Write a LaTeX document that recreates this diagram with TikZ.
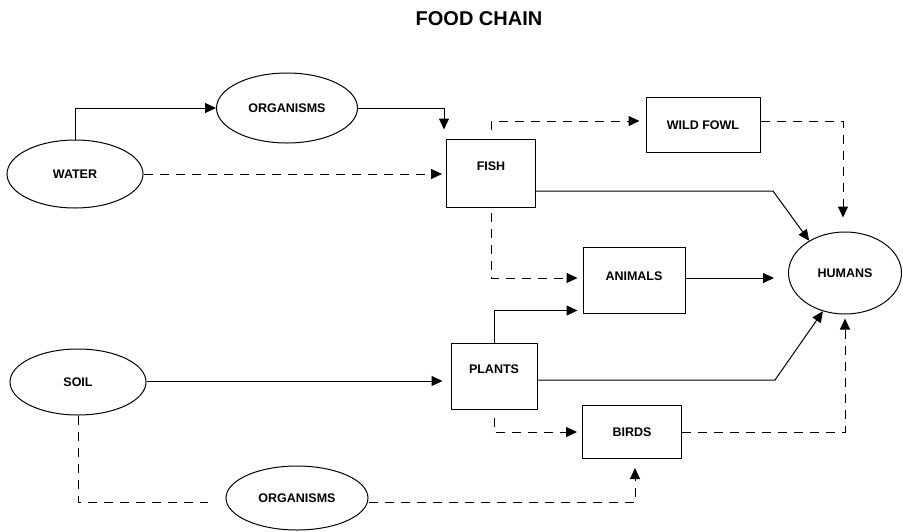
\documentclass[tikz,border=0pt]{standalone}
\usepackage{fontspec}
\setmainfont{Liberation Sans}
\usetikzlibrary{shapes.geometric,arrows.meta}

\begin{document}
\begin{tikzpicture}[x=1pt,y=-1pt,
    font=\fontsize{12.5}{14}\selectfont\bfseries,
    fc_oval/.style={shape=ellipse,draw,line width=1pt,inner sep=0pt},
    fc_box/.style={shape=rectangle,draw,line width=1pt,inner sep=0pt},
    fc_up/.style={text depth=14pt},
    fc_link/.style={line width=1pt,-{Triangle[length=11pt,width=10pt]}},
    fc_dlink/.style={fc_link,dash pattern=on 9pt off 7pt}]
    \useasboundingbox (0,0) rectangle (903,531);

    \node (title) at (479,19) {\fontsize{20}{24}\selectfont FOOD CHAIN};

    % sources
    \node[fc_oval,minimum width=136pt,minimum height=68pt] (water) at (75,174) {WATER};
    \node[fc_oval,minimum width=141pt,minimum height=70pt] (org_w) at (287,108) {ORGANISMS};
    \node[fc_oval,minimum width=136pt,minimum height=66pt] (soil) at (78,382) {SOIL};
    \node[fc_oval,minimum width=142pt,minimum height=64pt] (org_s) at (297,498) {ORGANISMS};

    % food
    \node[fc_box,fc_up,minimum width=89pt,minimum height=68pt] (fish) at (491,173) {FISH};
    \node[fc_box,fc_up,minimum width=86pt,minimum height=66pt] (plants) at (494,376) {PLANTS};
    \node[fc_box,minimum width=114pt,minimum height=55pt] (fowl) at (703,125) {WILD FOWL};
    \node[fc_box,text depth=7pt,minimum width=102pt,minimum height=66pt] (animals) at (634,280) {ANIMALS};
    \node[fc_box,minimum width=99pt,minimum height=53pt] (birds) at (632,432) {BIRDS};

    \node[fc_oval,minimum width=113pt,minimum height=82pt] (humans) at (845,273) {HUMANS};

    \coordinate (fish_bend) at (773,191);
    \coordinate (plants_bend) at (775,380);

    % water side
    \draw[fc_link] (water.north) |- (org_w.west);
    \draw[fc_link,shorten >=9pt] (org_w.east) -| ([xshift=-2pt]fish.north west);
    \draw[fc_dlink,shorten >=4pt] (water.east) -- (water.east -| fish.west);
    \draw[fc_dlink,shorten >=6pt] ([yshift=9pt]fish.north) |- ([yshift=4pt]fowl.west);
    \draw[fc_dlink,shorten >=14pt] ([yshift=4pt]fowl.east) -| ([xshift=-2pt]humans.north);
    \draw[fc_link] ([yshift=-18pt]fish.east) -- (fish_bend) -- (humans.138);
    \draw[fc_dlink,shorten >=5pt] ([yshift=-5pt]fish.south) |- ([yshift=2pt]animals.west);
    \draw[fc_link,shorten >=14pt] ([yshift=2pt]animals.east) -- ([yshift=2pt]animals.east -| humans.west);

    % soil side
    \draw[fc_link,shorten >=8pt] ([yshift=1pt]soil.east) -- ([yshift=1pt]soil.east -| plants.west);
    \draw[fc_link,shorten >=5pt] (plants.north) |- ([yshift=3pt]animals.south west);
    \draw[fc_link] ([yshift=-4pt]plants.east) -- (plants_bend) -- (humans.-120);
    \draw[fc_dlink,shorten >=5pt] ([yshift=-8pt]plants.south) |- (birds.west);
    \draw[fc_dlink,shorten >=4pt] (birds.east) -| (humans.south);
    \draw[fc_dlink,-,shorten >=18pt] (soil.south) |- ([yshift=-4pt]org_s.west);
    \draw[fc_dlink,shorten >=9pt] ([yshift=-4pt]org_s.east) -| ([xshift=3pt]birds.south);

\end{tikzpicture}
\end{document}
